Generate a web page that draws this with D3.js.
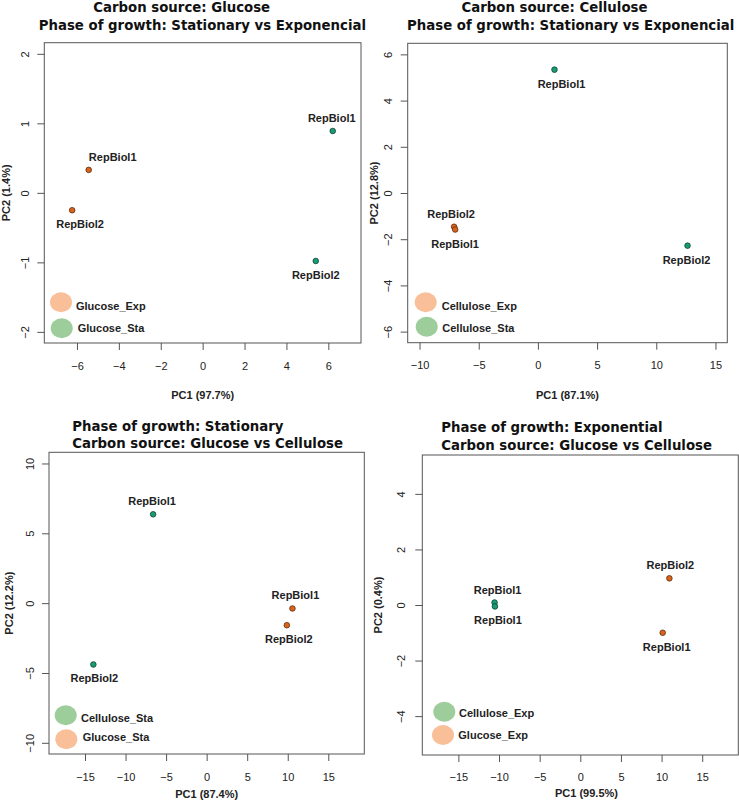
<!DOCTYPE html>
<html>
<head>
<meta charset="utf-8">
<script src="https://cdn.jsdelivr.net/npm/d3@7"></script>
<style>
  body { margin: 0; background: #fff; }
  svg { display: block; }
</style>
</head>
<body>
<div id="chart"></div>
<script>
// ---- data ----

// Glucose: stationary vs exponential
var glcRep = ["RepBiol1", "RepBiol2", "RepBiol1", "RepBiol2"];
var glcGroup = ["Glucose_Exp", "Glucose_Exp", "Glucose_Sta", "Glucose_Sta"];
var glcPC1 = [-5.44, -6.23, 6.21, 5.40];
var glcPC2 = [0.33, -0.25, 0.89, -0.98];
var glcXTicks = [-6, -4, -2, 0, 2, 4, 6];
var glcYTicks = [-2, -1, 0, 1, 2];
var glcLegend = ["Glucose_Exp", "Glucose_Sta"];

// Cellulose: stationary vs exponential
var celRep = ["RepBiol1", "RepBiol2", "RepBiol2", "RepBiol1"];
var celGroup = ["Cellulose_Sta", "Cellulose_Sta", "Cellulose_Exp", "Cellulose_Exp"];
var celPC1 = [1.40, 12.64, -7.08, -6.99];
var celPC2 = [5.34, -2.28, -1.46, -1.58];
var celXTicks = [-10, -5, 0, 5, 10, 15];
var celYTicks = [-6, -4, -2, 0, 2, 4, 6];
var celLegend = ["Cellulose_Exp", "Cellulose_Sta"];

// Stationary: glucose vs cellulose
var staRep = ["RepBiol1", "RepBiol2", "RepBiol1", "RepBiol2"];
var staGroup = ["Cellulose_Sta", "Cellulose_Sta", "Glucose_Sta", "Glucose_Sta"];
var staPC1 = [-6.60, -13.97, 10.58, 9.89];
var staPC2 = [6.36, -4.39, -0.38, -1.58];
var staXTicks = [-15, -10, -5, 0, 5, 10, 15];
var staYTicks = [-10, -5, 0, 5, 10];
var staLegend = ["Cellulose_Sta", "Glucose_Sta"];

// Exponential: glucose vs cellulose
var expRep = ["RepBiol1", "RepBiol1", "RepBiol2", "RepBiol1"];
var expGroup = ["Cellulose_Exp", "Cellulose_Exp", "Glucose_Exp", "Glucose_Exp"];
var expPC1 = [-10.55, -10.50, 10.96, 10.14];
var expPC2 = [0.09, -0.05, 0.96, -1.00];
var expXTicks = [-15, -10, -5, 0, 5, 10, 15];
var expYTicks = [-4, -2, 0, 2, 4];
var expLegend = ["Cellulose_Exp", "Glucose_Exp"];

var panels = [
    { pc1: glcPC1, pc2: glcPC2, rep: glcRep, grp: glcGroup, xlim: [-7, 7], ylim: [-2, 2],
      xticks: glcXTicks, yticks: glcYTicks, legend: glcLegend, orange: "Glucose_Exp",
      title: ["Carbon source: Glucose", "Phase of growth: Stationary vs Exponencial"],
      xlab: "PC1 (97.7%)", ylab: "PC2 (1.4%)" },
    { pc1: celPC1, pc2: celPC2, rep: celRep, grp: celGroup, xlim: [-10, 15], ylim: [-6, 6],
      xticks: celXTicks, yticks: celYTicks, legend: celLegend, orange: "Cellulose_Exp",
      title: ["Carbon source: Cellulose", "Phase of growth: Stationary vs Exponencial"],
      xlab: "PC1 (87.1%)", ylab: "PC2 (12.8%)" },
    { pc1: staPC1, pc2: staPC2, rep: staRep, grp: staGroup, xlim: [-18, 18], ylim: [-10, 10],
      xticks: staXTicks, yticks: staYTicks, legend: staLegend, orange: "Glucose_Sta",
      title: ["Phase of growth: Stationary", "Carbon source: Glucose vs Cellulose"],
      xlab: "PC1 (87.4%)", ylab: "PC2 (12.2%)" },
    { pc1: expPC1, pc2: expPC2, rep: expRep, grp: expGroup, xlim: [-18, 18], ylim: [-5, 5],
      xticks: expXTicks, yticks: expYTicks, legend: expLegend, orange: "Glucose_Exp",
      title: ["Phase of growth: Exponential", "Carbon source: Glucose vs Cellulose"],
      xlab: "PC1 (99.5%)", ylab: "PC2 (0.4%)" }
];

// ---- layout (pixels) ----
var layouts = [
    { box: {left: 44.3, right: 361, top: 42.7, bottom: 343},
      xTickY: 26.7, yTickX: 15.3, xlabY: 398.5, xlabX: 202.7, ylabX: 9.5,
      titleAnchor: "middle", titleX: [181.7, 202.4], titleY: [11.7, 29.7],
      side: ["above", "below", "above", "below"], labelDx: [24, 8, -1, 0],
      leg: {cx: [16.7, 17.4], cy: [-40.7, -14.7], tx: [31.7, 33.4], ty: [-33.3, -10.7]} },
    { box: {left: 407.7, right: 727.3, top: 43.3, bottom: 342.7},
      xTickY: 26.3, yTickX: 15.7, xlabY: 398.5, xlabX: 567.5, ylabX: 378,
      titleAnchor: "middle", titleX: [554.5, 570.7], titleY: [11.7, 30],
      side: ["below", "below", "above", "below"], labelDx: [7, -1, -3, 0],
      leg: {cx: [18, 19], cy: [-40.4, -16], tx: [34, 34.6], ty: [-33, -10.4]} },
    { box: {left: 49, right: 364.3, top: 452.3, bottom: 754},
      xTickY: 26.7, yTickX: 15, xlabY: 798, xlabX: 206.7, ylabX: 13,
      titleAnchor: "start", titleX: [72.3, 72.3], titleY: [430.7, 448.3],
      side: ["above", "below", "above", "below"], labelDx: [-1, 1, 3, 2],
      leg: {cx: [16.7, 17.3], cy: [-38.7, -14.7], tx: [32, 33.7], ty: [-31.7, -12.7]} },
    { box: {left: 422.3, right: 738.3, top: 455, bottom: 755},
      xTickY: 26, yTickX: 17.6, xlabY: 797, xlabX: 586.5, ylabX: 382,
      titleAnchor: "start", titleX: [441.3, 441.3], titleY: [432.3, 450],
      side: ["above", "below", "above", "below"], labelDx: [3, 3, 1, 4],
      leg: {cx: [22, 20.7], cy: [-43.3, -20], tx: [36.7, 36], ty: [-37.7, -16]} }
];

var FONT = "'Liberation Sans', Arial, Helvetica, sans-serif";
var TITLE_FONT = "'DejaVu Sans', Verdana, sans-serif";

var svg = d3.select("#chart").append("svg")
    .attr("width", 739)
    .attr("height", 800);

panels.forEach(function(p, k) {
    var L = layouts[k];
    var b = L.box;
    // R pads the limits by 4% on each side
    var ex = (p.xlim[1] - p.xlim[0]) * 0.04;
    var ey = (p.ylim[1] - p.ylim[0]) * 0.04;

    var x = d3.scaleLinear()
        .domain([p.xlim[0] - ex, p.xlim[1] + ex])
        .range([b.left, b.right]);
    var y = d3.scaleLinear()
        .domain([p.ylim[0] - ey, p.ylim[1] + ey])
        .range([b.bottom, b.top]);

    var g = svg.append("g");

    // x axis
    var gx = g.append("g")
        .attr("transform", "translate(0," + b.bottom + ")")
        .call(d3.axisBottom(x).tickValues(p.xticks).tickFormat(d3.format("d")).tickSize(7).tickSizeOuter(0));
    gx.select(".domain").remove();
    gx.attr("font-size", 11).attr("font-family", FONT);
    gx.selectAll("line").attr("stroke", "#555");
    gx.selectAll("text")
        .attr("y", L.xTickY)
        .attr("dy", null)
        .attr("fill", "#222");

    // y axis, labels turned like R's las = 0
    var gy = g.append("g")
        .attr("transform", "translate(" + b.left + ",0)")
        .call(d3.axisLeft(y).tickValues(p.yticks).tickFormat(d3.format("d")).tickSize(7).tickSizeOuter(0));
    gy.select(".domain").remove();
    gy.attr("font-size", 11).attr("font-family", FONT);
    gy.selectAll("line").attr("stroke", "#555");
    gy.selectAll("text")
        .attr("transform", "rotate(-90)")
        .attr("x", 0)
        .attr("y", -L.yTickX)
        .attr("dy", null)
        .attr("text-anchor", "middle")
        .attr("fill", "#222");

    // plot box
    g.append("rect")
        .attr("x", b.left)
        .attr("y", b.top)
        .attr("width", b.right - b.left)
        .attr("height", b.bottom - b.top)
        .attr("fill", "none")
        .attr("stroke", "#555")
        .attr("stroke-width", 1);

    // axis titles
    g.append("text")
        .attr("x", L.xlabX)
        .attr("y", L.xlabY)
        .attr("text-anchor", "middle")
        .attr("font-family", FONT)
        .attr("font-weight", "bold")
        .attr("font-size", 11)
        .attr("fill", "#222")
        .text(p.xlab);

    g.append("text")
        .attr("transform", "translate(" + L.ylabX + "," + ((b.top + b.bottom) / 2) + ") rotate(-90)")
        .attr("text-anchor", "middle")
        .attr("font-family", FONT)
        .attr("font-weight", "bold")
        .attr("font-size", 11)
        .attr("fill", "#222")
        .text(p.ylab);

    // two-line title
    p.title.forEach(function(t, i) {
        g.append("text")
            .attr("x", L.titleX[i])
            .attr("y", L.titleY[i])
            .attr("text-anchor", L.titleAnchor)
            .attr("font-family", TITLE_FONT)
            .attr("font-weight", "bold")
            .attr("font-size", 13.3)
            .attr("fill", "#111")
            .text(t);
    });

    // legend
    p.legend.forEach(function(name, i) {
        var orange = name === p.orange;
        g.append("ellipse")
            .attr("cx", b.left + L.leg.cx[i])
            .attr("cy", b.bottom + L.leg.cy[i])
            .attr("rx", 11)
            .attr("ry", 10)
            .attr("fill", orange ? "#f9bf99" : "#9dcd9a");
        g.append("text")
            .attr("x", b.left + L.leg.tx[i])
            .attr("y", b.bottom + L.leg.ty[i])
            .attr("font-family", FONT)
            .attr("font-weight", "bold")
            .attr("font-size", 11)
            .attr("fill", "#222")
            .text(name);
    });

    // points
    var idx = d3.range(p.pc1.length);
    function isOrange(i) { return p.grp[i] === p.orange; }

    g.selectAll(".pt")
        .data(idx)
        .enter().append("circle")
        .attr("class", "pt")
        .attr("cx", function(i) { return x(p.pc1[i]); })
        .attr("cy", function(i) { return y(p.pc2[i]); })
        .attr("r", 2.8)
        .attr("fill", function(i) { return isOrange(i) ? "#d8641c" : "#1b9b74"; })
        .attr("stroke", function(i) { return isOrange(i) ? "#5e2c0c" : "#0c4536"; })
        .attr("stroke-width", 0.8);

    g.selectAll(".lbl")
        .data(idx)
        .enter().append("text")
        .attr("class", "lbl")
        .attr("x", function(i) { return x(p.pc1[i]) + L.labelDx[i]; })
        .attr("y", function(i) { return y(p.pc2[i]) + (L.side[i] === "above" ? -9 : 18); })
        .attr("text-anchor", "middle")
        .attr("font-family", FONT)
        .attr("font-weight", "bold")
        .attr("font-size", 11)
        .attr("fill", "#222")
        .text(function(i) { return p.rep[i]; });
});
</script>
</body>
</html>
